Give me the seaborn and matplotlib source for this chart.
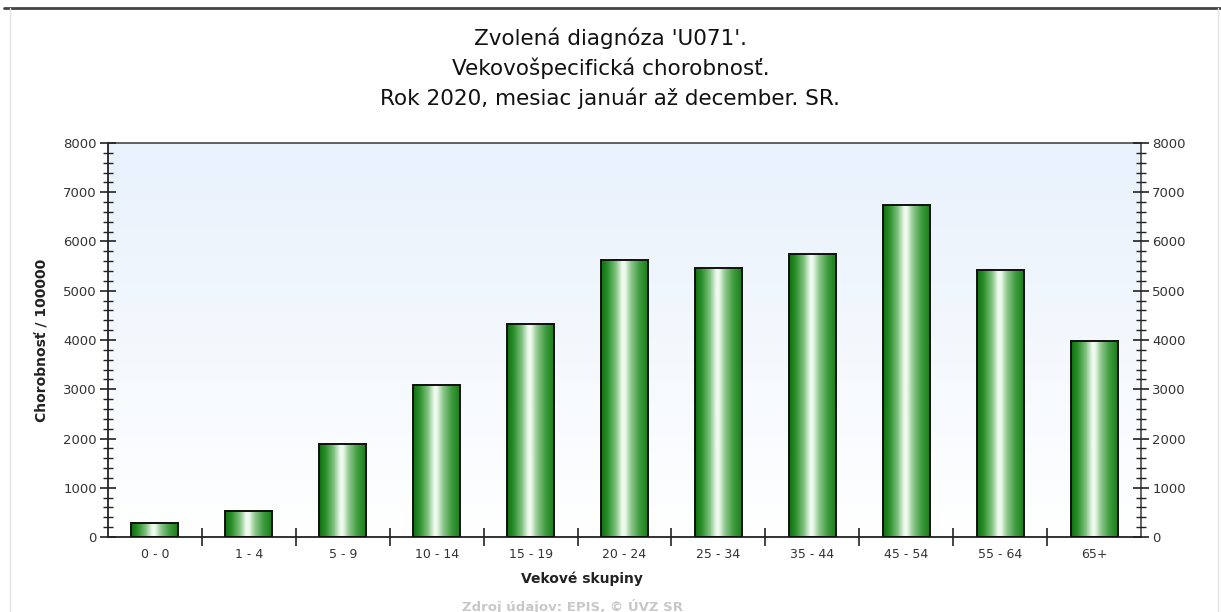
import numpy as np
import pandas as pd
import seaborn as sns
import matplotlib.pyplot as plt
from matplotlib.colors import LinearSegmentedColormap
from matplotlib.ticker import MultipleLocator, FixedLocator
from matplotlib.lines import Line2D

# Data
age_groups = ['0 - 0', '1 - 4', '5 - 9', '10 - 14', '15 - 19', '20 - 24',
              '25 - 34', '35 - 44', '45 - 54', '55 - 64', '65+']
rates = [280, 530, 1890, 3090, 4330, 5620, 5460, 5750, 6740, 5430, 3970]

title_lines = ["Zvolená diagnóza 'U071'.",
               "Vekovošpecifická chorobnosť.",
               "Rok 2020, mesiac január až december. SR."]

sns.set_theme(style="white")
plt.rcParams['font.family'] = ['DejaVu Sans']

W, H = 1221, 612
fig = plt.figure(figsize=(W / 100, H / 100), dpi=100)
fig.patch.set_facecolor('white')

# plot area in pixels
left, right, top, bottom = 108, 1141, 143, 537
ax = fig.add_axes([left / W, 1 - bottom / H, (right - left) / W, (bottom - top) / H])

df = pd.DataFrame({'group': age_groups, 'rate': rates})
sns.barplot(data=df, x='group', y='rate', ax=ax, color='#2e8b2e', width=0.5,
            saturation=1, edgecolor='#111111', linewidth=1.4, zorder=3)

# background gradient of the plot area
bg = LinearSegmentedColormap.from_list('bg', ['#ffffff', '#e8f1fc'])
ax.imshow(np.linspace(0, 1, 256).reshape(-1, 1), cmap=bg, origin='lower',
          extent=[0, 1, 0, 1], transform=ax.transAxes, aspect='auto', zorder=0)

# cylindrical green gradient on each bar
green = LinearSegmentedColormap.from_list('cyl', [
    (0.0, '#0c6e0c'), (0.15, '#2f922f'), (0.32, '#82c282'), (0.45, '#eefaee'),
    (0.51, '#eefaee'), (0.64, '#8fc88f'), (0.82, '#3f9c3f'), (1.0, '#187f18')])
grad = np.linspace(0, 1, 256).reshape(1, -1)
for p in ax.patches:
    x0, y0 = p.get_x(), p.get_y()
    w, h = p.get_width(), p.get_height()
    p.set_facecolor('none')
    ax.imshow(grad, cmap=green, extent=[x0, x0 + w, y0, y0 + h],
              aspect='auto', zorder=2)

ax.set_xlim(-0.5, len(age_groups) - 0.5)
ax.set_ylim(0, 8000)

# ticks
ax.xaxis.set_minor_locator(FixedLocator(np.arange(0.5, len(age_groups) - 0.5, 1)))
ax.tick_params(axis='x', which='major', length=0, pad=8, labelsize=9, labelcolor='#333333')
ax.tick_params(axis='x', which='minor', bottom=True, direction='inout', length=13,
               width=1.2, color='#222222')
ax.yaxis.set_major_locator(MultipleLocator(1000))
ax.yaxis.set_minor_locator(MultipleLocator(200))
ax.tick_params(axis='y', which='major', left=True, right=True, labelleft=True,
               labelright=True, direction='inout', length=12, width=1.2,
               color='#222222', labelsize=9.5, labelcolor='#333333', pad=2)
ax.tick_params(axis='y', which='minor', left=True, right=True, direction='inout',
               length=7, width=1.0, color='#222222')

for side, sp in ax.spines.items():
    sp.set_visible(True)
    sp.set_color('#555555' if side in ('top', 'right') else '#222222')
    sp.set_linewidth(1.3)
ax.set_axisbelow(False)

ax.set_xlabel('')
ax.set_ylabel('')

# texts
ys = [38, 68, 98]
for line, y in zip(title_lines, ys):
    fig.text(0.5, 1 - y / H, line, ha='center', va='center', fontsize=15.5, color='#111111')

fig.text(43 / W, 1 - 340 / H, 'Chorobnosť / 100000', rotation=90, ha='center',
         va='center', fontsize=10, fontweight='bold', color='#222222')
fig.text(582 / W, 1 - 579 / H, 'Vekové skupiny', ha='center', va='center',
         fontsize=10, fontweight='bold', color='#222222')
fig.text(573 / W, 1 - 606 / H, 'Zdroj údajov: EPIS, © ÚVZ SR', ha='center',
         va='center', fontsize=9.5, fontweight='bold', color='#c8c8c8')

# frame of the original image
fig.add_artist(Line2D([4 / W, 1], [1 - 8 / H, 1 - 8 / H], color='#444444', linewidth=2))
fig.add_artist(Line2D([10 / W, 10 / W], [0, 1 - 8 / H], color='#e4e4e4', linewidth=1))
fig.add_artist(Line2D([1218 / W, 1218 / W], [0, 1 - 8 / H], color='#e4e4e4', linewidth=1))

fig.savefig('out.png', dpi=100)
